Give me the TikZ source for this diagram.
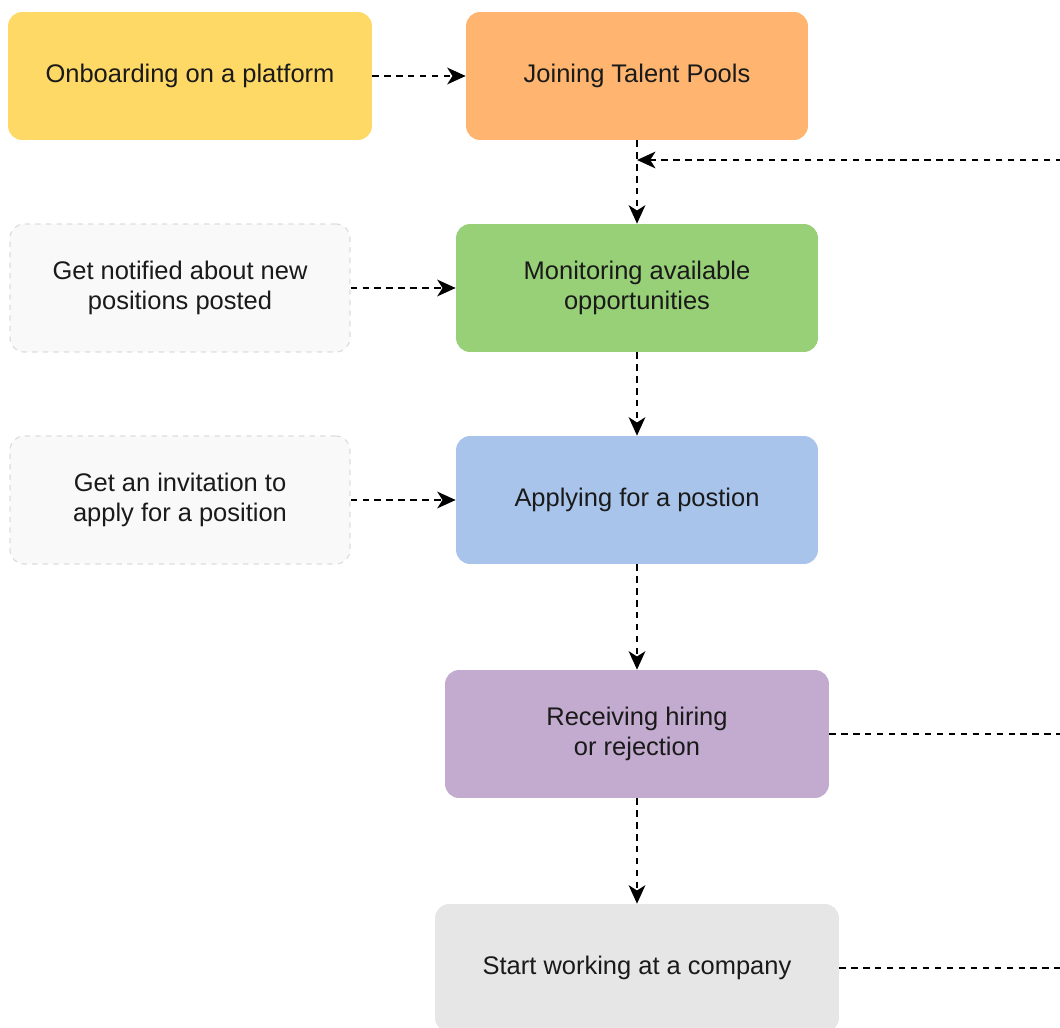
\documentclass[tikz,border=0pt]{standalone}
\usepackage{fontspec}
\setmainfont{Liberation Sans}
\usetikzlibrary{arrows.meta}
\definecolor{onboardfill}{HTML}{FFD966}
\definecolor{poolsfill}{HTML}{FFB570}
\definecolor{monitorfill}{HTML}{97D077}
\definecolor{applyfill}{HTML}{A9C4EB}
\definecolor{outcomefill}{HTML}{C3ABD0}
\definecolor{workfill}{HTML}{E6E6E6}
\definecolor{hintfill}{HTML}{F9F9F9}
\definecolor{hintline}{HTML}{DDDDDD}
\definecolor{inktext}{HTML}{1A1A1A}

\begin{document}
\begin{tikzpicture}
  [x=0.02cm, y=-0.02cm,
   every node/.style={rounded corners=8pt, align=center, inner sep=2pt,
     minimum height=2.56cm, text=inktext,
     font=\fontsize{14.5}{17.2}\selectfont},
   stage/.style={fill=#1, draw=none},
   hint/.style={fill=hintfill, draw=hintline, dashed, line width=0.7pt},
   flow/.style={line width=1.1pt, dash pattern=on 3.6pt off 3.2pt,
     -{Stealth[length=10.5pt, width=9.5pt, inset=3pt]}},
   feed/.style={line width=1.1pt, dash pattern=on 3.6pt off 3.2pt}]
  \useasboundingbox (0,0) rectangle (1060,1027);
  % stages
  \node[stage=onboardfill, minimum width=7.28cm] (onboard) at (190,76) {Onboarding on a platform};
  \node[stage=poolsfill, minimum width=6.84cm] (pools) at (637,76) {Joining Talent Pools};
  \node[stage=monitorfill, minimum width=7.24cm] (monitor) at (637,288) {Monitoring available\\opportunities};
  \node[stage=applyfill, minimum width=7.24cm] (apply) at (637,500) {Applying for a postion};
  \node[stage=outcomefill, minimum width=7.68cm] (outcome) at (637,734) {Receiving hiring\\or rejection};
  \node[stage=workfill, minimum width=8.08cm] (work) at (637,968) {Start working at a company};
  % hints
  \node[hint, minimum width=6.8cm] (notify) at (180,288) {Get notified about new\\positions posted};
  \node[hint, minimum width=6.8cm] (invite) at (180,500) {Get an invitation to\\apply for a position};
  % loose ends at the right edge
  \coordinate (loopin) at (1062,160);
  \coordinate (merge) at (637,160);
  \coordinate (outrej) at (1062,734);
  \coordinate (outwork) at (1062,968);
  % connectors
  \draw[flow] (onboard) -- (pools);
  \draw[flow] (pools) -- (monitor);
  \draw[flow] (loopin) -- (merge);
  \draw[flow] (notify) -- (monitor);
  \draw[flow] (monitor) -- (apply);
  \draw[flow] (invite) -- (apply);
  \draw[flow] (apply) -- (outcome);
  \draw[flow] (outcome) -- (work);
  \draw[feed] (outcome) -- (outrej);
  \draw[feed] (work) -- (outwork);
\end{tikzpicture}
\end{document}
